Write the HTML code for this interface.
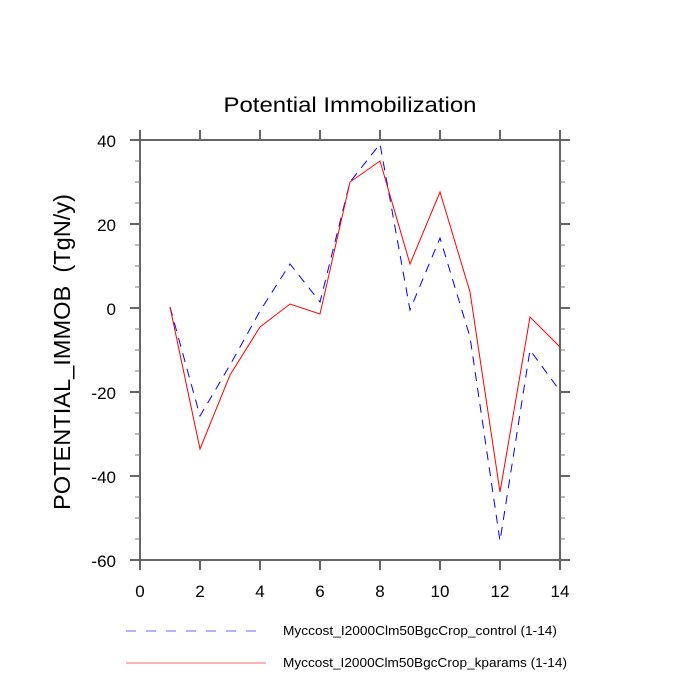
<!DOCTYPE html>
<html><head><meta charset="utf-8"><style>html,body{margin:0;padding:0;background:#fff}svg{display:block}</style></head>
<body>
<svg width="700" height="700" xmlns="http://www.w3.org/2000/svg" font-family="Liberation Sans, Arial, sans-serif">
<rect width="700" height="700" fill="#fff"/>
<text x="350" y="112" font-size="21" text-anchor="middle" textLength="253" lengthAdjust="spacingAndGlyphs">Potential Immobilization</text>
<g stroke="#666" stroke-width="2" fill="none">
<rect x="140" y="140" width="420" height="420"/>
</g>
<g stroke="#666" stroke-width="2">
<path d="M140 130V140M200 130V140M260 130V140M320 130V140M380 130V140M440 130V140M500 130V140M560 130V140
M140 560V570M200 560V570M260 560V570M320 560V570M380 560V570M440 560V570M500 560V570M560 560V570
M130 140H140M130 224H140M130 308H140M130 392H140M130 476H140M130 560H140
M560 140H570M560 224H570M560 308H570M560 392H570M560 476H570M560 560H570"/>
</g>
<g stroke="#777" stroke-width="1">
<path d="M135 161H140M135 182H140M135 203H140M135 245H140M135 266H140M135 287H140M135 329H140M135 350H140M135 371H140M135 413H140M135 434H140M135 455H140M135 497H140M135 518H140M135 539H140
M560 161H565M560 182H565M560 203H565M560 245H565M560 266H565M560 287H565M560 329H565M560 350H565M560 371H565M560 413H565M560 434H565M560 455H565M560 497H565M560 518H565M560 539H565"/>
</g>
<g font-size="17" text-anchor="end">
<text x="116" y="147">40</text>
<text x="116" y="231">20</text>
<text x="116" y="315">0</text>
<text x="116" y="399">-20</text>
<text x="116" y="483">-40</text>
<text x="116" y="567">-60</text>
</g>
<g font-size="17" text-anchor="middle">
<text x="140" y="597">0</text><text x="200" y="597">2</text><text x="260" y="597">4</text><text x="320" y="597">6</text>
<text x="380" y="597">8</text><text x="440" y="597">10</text><text x="500" y="597">12</text><text x="560" y="597">14</text>
</g>
<text transform="translate(70,352) rotate(-90)" font-size="23" text-anchor="middle" textLength="316" lengthAdjust="spacingAndGlyphs">POTENTIAL_IMMOB&#160;&#160;(TgN/y)</text>
<polyline fill="none" stroke="#00f" stroke-width="1" stroke-dasharray="9,7" points="170,307 200,416 230,365 260,311 290,264 320,302 350,182 380,144 410,310 440,238 470,337 500,541 530,350 560,391"/>
<polyline fill="none" stroke="#f00" stroke-width="1" points="170,307 200,449 230,375 260,327 290,304 320,314 350,182 380,161 410,264 440,192 470,292 500,492 530,317 560,347"/>
<line x1="126" y1="631" x2="264" y2="631" stroke="#66f" stroke-width="1" stroke-dasharray="10,10"/>
<line x1="126" y1="663" x2="266" y2="663" stroke="#f66" stroke-width="1"/>
<g font-size="12.5">
<text x="283" y="635" textLength="274" lengthAdjust="spacingAndGlyphs">Myccost_I2000Clm50BgcCrop_control (1-14)</text>
<text x="283" y="667" textLength="284" lengthAdjust="spacingAndGlyphs">Myccost_I2000Clm50BgcCrop_kparams (1-14)</text>
</g>
</svg>
</body></html>
